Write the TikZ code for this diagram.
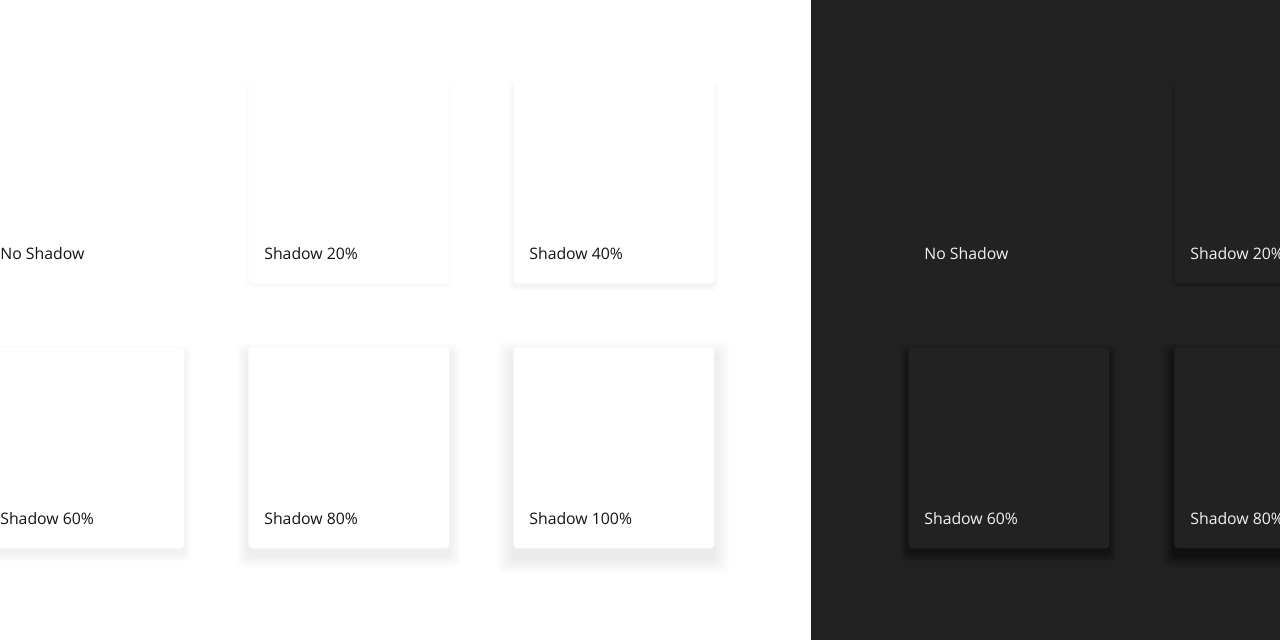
\documentclass[tikz,border=0pt]{standalone}
\usepackage{fontspec}
\setmainfont{Open Sans}
\usetikzlibrary{positioning, calc}

\definecolor{pagedark}{HTML}{212121}
\definecolor{carddark}{HTML}{222222}
\definecolor{inklight}{HTML}{141414}
\definecolor{inkdark}{HTML}{F2F2F2}

% soft shadow under a card: left, top, strength (0..1)
\newcommand{\cardshadow}[3]{%
  \pgfmathtruncatemacro{\shn}{round(4+16*#3)}%
  \pgfmathsetmacro{\shsp}{0.2+0.6*#3}%
  \pgfmathsetmacro{\shdy}{10*#3}%
  \foreach \i in {1,...,\shn}{%
    \fill[black, opacity=0.0045, rounded corners=0.1cm]
      ({#1-\i*\shsp},{#2+\shdy-\i*\shsp}) rectangle ({#1+201+\i*\shsp},{#2+201+\shdy+\i*\shsp});
  }}

\begin{document}
\begin{tikzpicture}[x=0.02cm, y=-0.02cm,
    card/.style={rounded corners=0.08cm, minimum width=4.02cm, minimum height=4.02cm,
      inner sep=0pt, anchor=north west},
    lightcard/.style={card, fill=white},
    darkcard/.style={card, fill=carddark},
    cardtext/.style={anchor=base west, inner sep=0pt, font=\fontsize{9}{11}\selectfont}]
        \useasboundingbox (0,0) rectangle (1280,640);
        \clip (0,0) rectangle (1280,640);

        % Backgrounds
        \fill[white] (0,0) rectangle (811,640);
        \fill[pagedark] (811,0) rectangle (1280,640);

        % Light cards, top row
        \node[lightcard] (lnone) at (-16,82) {};
        \node[cardtext, text=inklight] (tlnone) at ($(lnone.north west)+(16,177)$) {No Shadow};
        \cardshadow{248}{82}{0.2}
        \node[lightcard] (l20) at (248,82) {};
        \node[cardtext, text=inklight] (tl20) at ($(l20.north west)+(16,177)$) {Shadow 20\%};
        \cardshadow{513}{82}{0.4}
        \node[lightcard] (l40) at (513,82) {};
        \node[cardtext, text=inklight] (tl40) at ($(l40.north west)+(16,177)$) {Shadow 40\%};

        % Light cards, bottom row
        \cardshadow{-17}{347}{0.6}
        \node[lightcard] (l60) at (-17,347) {};
        \node[cardtext, text=inklight] (tl60) at ($(l60.north west)+(17,177)$) {Shadow 60\%};
        \cardshadow{248}{347}{0.8}
        \node[lightcard] (l80) at (248,347) {};
        \node[cardtext, text=inklight] (tl80) at ($(l80.north west)+(16,177)$) {Shadow 80\%};
        \cardshadow{513}{347}{1}
        \node[lightcard] (l100) at (513,347) {};
        \node[cardtext, text=inklight] (tl100) at ($(l100.north west)+(16,177)$) {Shadow 100\%};

        % Dark cards
        \node[darkcard] (dnone) at (908,82) {};
        \node[cardtext, text=inkdark] (tdnone) at ($(dnone.north west)+(16,177)$) {No Shadow};
        \cardshadow{1174}{82}{0.2}
        \node[darkcard] (d20) at (1174,82) {};
        \node[cardtext, text=inkdark] (td20) at ($(d20.north west)+(16,177)$) {Shadow 20\%};
        \cardshadow{908}{347}{0.6}
        \node[darkcard] (d60) at (908,347) {};
        \node[cardtext, text=inkdark] (td60) at ($(d60.north west)+(16,177)$) {Shadow 60\%};
        \cardshadow{1174}{347}{0.8}
        \node[darkcard] (d80) at (1174,347) {};
        \node[cardtext, text=inkdark] (td80) at ($(d80.north west)+(16,177)$) {Shadow 80\%};
    \end{tikzpicture}
\end{document}
